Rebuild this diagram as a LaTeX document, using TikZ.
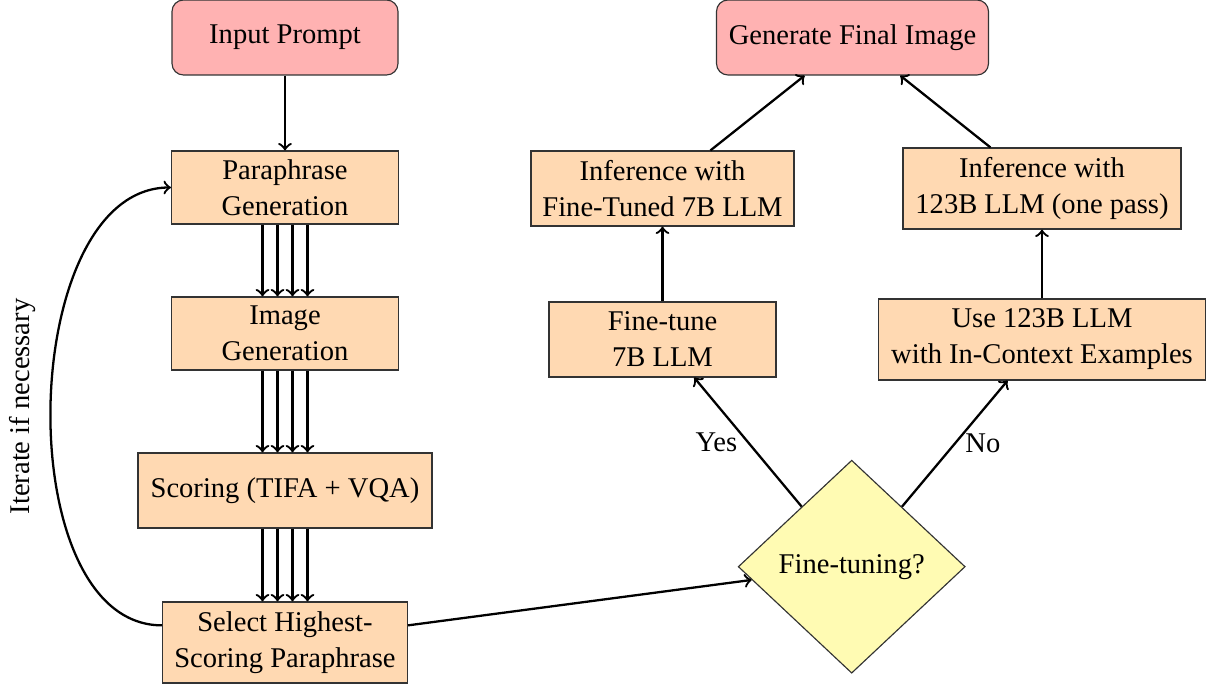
\documentclass[tikz,border=0pt]{standalone}
\usepackage{fontspec}
\setmainfont{Liberation Serif}
\usetikzlibrary{shapes.geometric}

\begin{document}
\begin{tikzpicture}[x=0.35pt, y=-0.35pt, node distance=52.5pt, thick, font=\fontsize{10}{12.6}\selectfont,
	endpt/.style = {draw=black!80, thin, rounded corners=4pt, fill=red!30, align=center, minimum height=26.25pt},
	stage/.style = {draw=black!80, thin, fill=orange!30, align=center, inner sep=2pt},
	decide/.style = {draw=black!80, thin, diamond, fill=yellow!30, inner sep=1pt, minimum width=79.45pt, minimum height=74.55pt}]
	\useasboundingbox (0,0) rectangle (1207,691);
	%Left column: paraphrase loop
	\node[endpt, minimum width=79.1pt] (prompt) at (285,37.5) {Input Prompt};
	\node[stage, minimum width=79.45pt, minimum height=25.55pt] (para) [below of=prompt] {Paraphrase\\Generation};
	\node[stage, minimum width=79.45pt, minimum height=25.55pt] (imggen) [node distance=51.1pt, below of=para] {Image\\Generation};
	\node[stage, minimum width=102.9pt, minimum height=26.25pt] (score) [node distance=54.95pt, below of=imggen] {Scoring (TIFA + VQA)};
	\node[stage, minimum width=85.75pt, minimum height=28.35pt] (select) [node distance=53.2pt, below of=score] {Select Highest-\\Scoring Paraphrase};
	%Right part: decision and the two branches
	\node[decide] (dia) at (851.7,566.7) {Fine-tuning?};
	\node[stage, minimum width=79.45pt, minimum height=26.25pt] (finetune) at (662.5,339.5) {Fine-tune\\7B LLM};
	\node[stage, minimum width=92.05pt, minimum height=26.25pt] (inferft) [node distance=52.85pt, above of=finetune] {Inference with\\Fine-Tuned 7B LLM};
	\node[stage, minimum width=114.45pt, minimum height=28.35pt] (use123) at (1042,339.5) {Use 123B LLM\\with In-Context Examples};
	\node[stage, minimum width=97.3pt, minimum height=28.35pt] (infer123) [node distance=52.85pt, above of=use123] {Inference with\\123B LLM (one pass)};
	\node[endpt, minimum width=95.2pt] (final) at (852.5,37.5) {Generate Final Image};
	
	%Edges of the left column
	\draw[->] (prompt) -- (para); %Prompt -> paraphrases
	\foreach \dx in {-7.875,-2.625,2.625,7.875} {
		\draw[->] ([xshift=\dx pt]para.south) -- ([xshift=\dx pt]imggen.north);
		\draw[->] ([xshift=\dx pt]imggen.south) -- ([xshift=\dx pt]score.north);
		\draw[->] ([xshift=\dx pt]score.south) -- ([xshift=\dx pt]select.north);
	}
	\draw[->] ([yshift=6pt]select.west) to[out=180, in=180, looseness=0.9] node[midway, rotate=90, anchor=south, inner sep=5pt] {Iterate if necessary} (para.west); %Loop back
	\draw[->] ([yshift=6pt]select.east) -- (dia); %Best paraphrase -> decision
	
	%Edges of the right part
	\draw[->] (dia) -- node[left] {Yes} (finetune);
	\draw[->] (dia) -- node[right] {No} (use123);
	\draw[->] (finetune) -- (inferft);
	\draw[->] (use123) -- (infer123);
	\draw[->] (inferft) -- (final);
	\draw[->] (infer123) -- (final);
\end{tikzpicture}
\end{document}
